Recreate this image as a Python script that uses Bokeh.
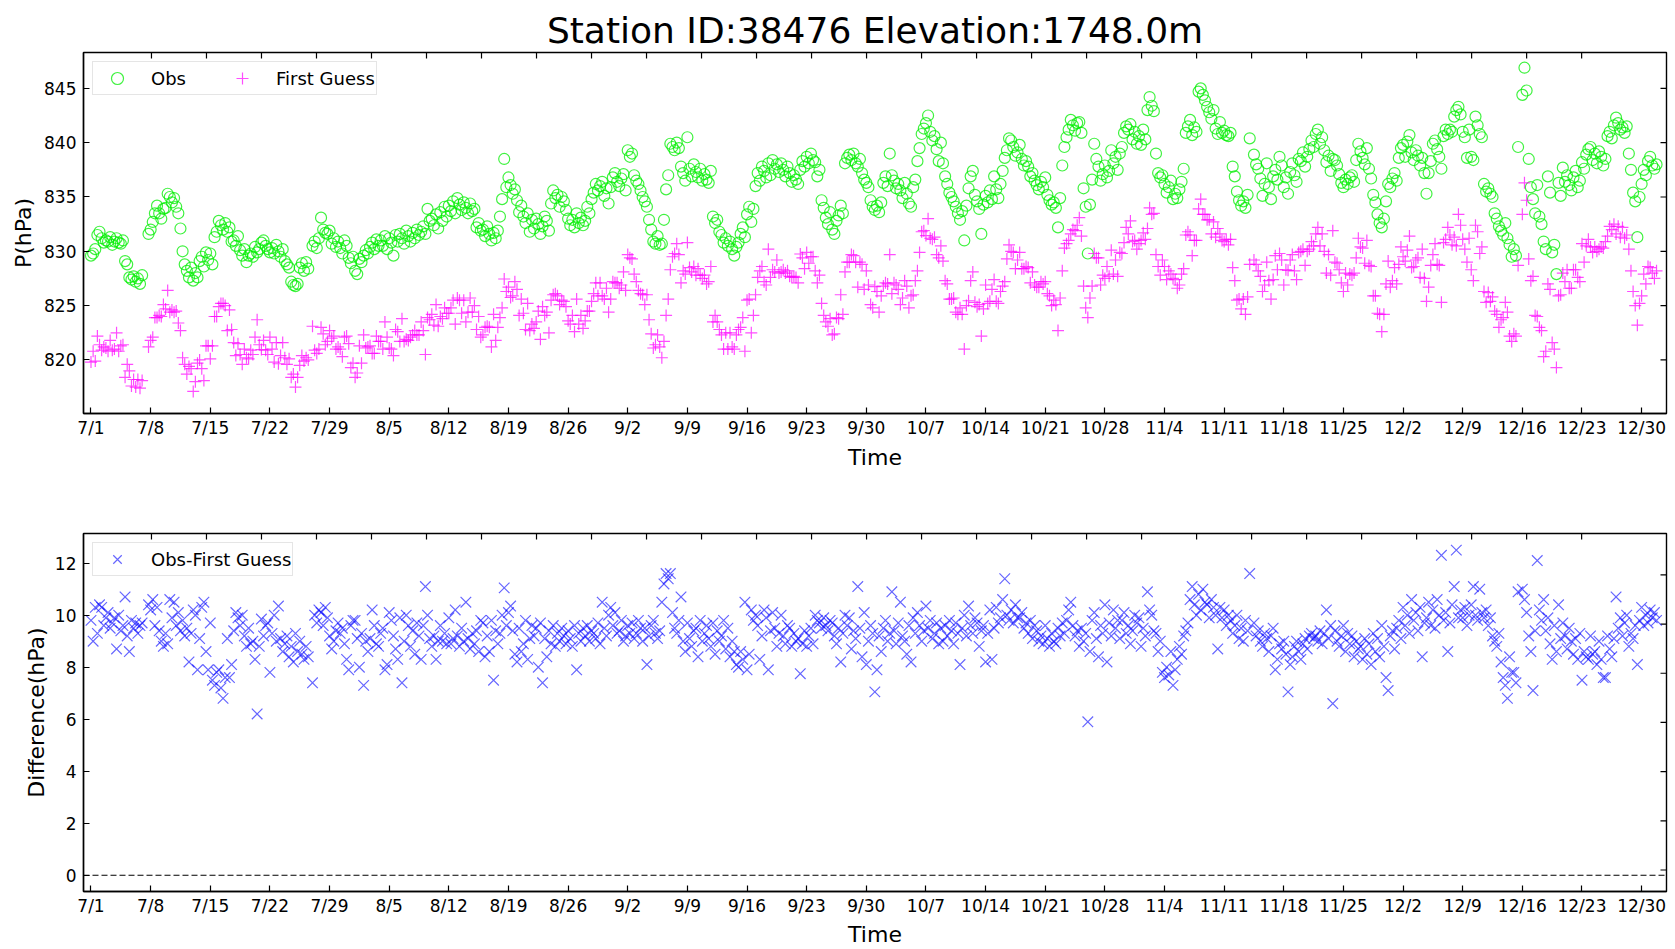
import numpy as np
from bokeh.plotting import figure
from bokeh.models import Range1d, FixedTicker, Legend, LegendItem, Span
from bokeh.layouts import column
from bokeh.embed import file_html
from bokeh.resources import INLINE

nan = float("nan")
FONT = "DejaVu Sans"
TITLE = "Station ID:38476 Elevation:1748.0m"

TICK_DAYS = [0, 7, 14, 21, 28, 35, 42, 49, 56, 63, 70, 77, 84, 91, 98, 105,
             112, 119, 126, 133, 140, 147, 154, 161, 168, 175, 182]
TICK_LABELS = ["7/1", "7/8", "7/15", "7/22", "7/29", "8/5", "8/12", "8/19", "8/26",
               "9/2", "9/9", "9/16", "9/23", "9/30", "10/7", "10/14", "10/21", "10/28",
               "11/4", "11/11", "11/18", "11/25", "12/2", "12/9", "12/16", "12/23", "12/30"]
P_TICKS = [820, 825, 830, 835, 840, 845]
D_TICKS = [0, 2, 4, 6, 8, 10, 12]

# observed station pressure (hPa), 4 reports per day (00/06/12/18), from 7/1
OBS = [
    829.6, 829.8, 830.2, 831.5, 831.8, 831.2, 830.8, 831.0, 830.9, 831.3, 830.6, 830.9, 831.2, 830.8, 830.7, 831.0,
    829.1, 828.8, 827.6, 827.4, 827.7, 827.2, 827.5, 827.0, 827.8, nan, nan, 831.6, 832.0, 832.7, 833.5, 834.2,
    833.5, 833.0, 833.9, 834.0, 835.3, 835.0, 834.5, 834.9, 834.1, 833.5, 832.1, 830.0, 828.8, 828.2, 827.6, 828.5,
    827.3, 828.0, 827.6, 829.1, 829.5, 828.6, 829.9, 829.2, 829.8, 828.8, 831.3, 831.8, 832.8, 832.4, 832.0, 832.6,
    831.8, 832.2, 830.9, 831.0, 830.5, 831.4, 830.1, 829.6, 830.2, 829.0, 829.6, 829.8, 829.5, 830.4, 829.9, 830.2,
    830.8, 831.0, 830.5, 830.2, 829.9, 830.3, 829.8, 830.6, 830.0, 829.5, 830.2, 829.1, 828.8, 828.5, 827.2, 826.9,
    826.8, 827.0, 828.5, 828.9, 828.2, 829.0, 828.4, nan, 830.5, 830.9, 830.3, 831.2, 833.1, 832.0, 831.7, 831.6,
    831.9, 830.7, 831.2, 830.4, 830.9, 830.3, 829.8, 831.0, 830.5, 829.4, 828.9, 829.5, 828.2, 827.9, 829.3, 829.0,
    829.6, 830.1, 829.8, 830.4, 830.8, 830.2, 831.1, 830.5, 831.0, 830.5, 831.4, 830.2, 831.2, 830.8, 829.6, 831.5,
    830.9, 831.6, 831.2, 830.7, 831.9, 831.4, 830.9, 831.7, 831.2, 832.0, 831.5, 831.8, 832.3, 831.6, 833.9, 832.8,
    833.0, 832.4, 833.4, 832.1, 833.6, 832.8, 834.1, 833.2, 834.2, 833.7, 834.6, 833.5, 834.9, 834.3, 833.8, 834.5,
    834.0, 833.5, 834.4, 833.7, 833.9, 832.2, 832.6, 831.9, 832.0, 831.4, 832.3, 831.6, 831.0, 831.7, 831.2, 831.9,
    833.2, 834.8, 838.5, 835.9, 836.8, 836.1, 835.3, 835.7, 834.7, 833.6, 834.2, 833.2, 832.6, 833.5, 831.8, 832.9,
    832.1, 833.0, 832.5, 831.6, 832.3, 833.2, 832.8, 831.9, 834.4, 835.6, 834.9, 835.2, 834.1, 835.0, 834.6, 833.8,
    833.0, 832.4, 832.9, 832.2, 833.5, 832.6, 833.1, 832.4, 832.8, 834.1, 833.5, 834.8, 835.4, 836.2, 835.6, 836.0,
    836.4, 835.1, 835.8, 834.4, 835.9, 836.8, 837.2, 836.4, 836.0, 836.7, 837.1, 835.6, 839.3, 838.7, 839.0, 837.0,
    836.5, 836.2, 835.6, 835.0, 834.6, 834.1, 832.9, 832.0, 830.9, 830.7, 831.4, 830.6, 830.7, 832.9, 835.7, 837.0,
    839.9, 839.6, 839.3, 840.0, 839.5, 837.8, 837.2, 836.5, 840.5, 837.6, 836.9, 838.0, 837.3, 836.8, 837.6, 836.5,
    837.1, 836.6, 836.3, 837.4, 833.2, 832.6, 832.9, 831.8, 831.5, 830.8, 831.2, 830.5, 830.9, 830.2, 829.6, 830.4,
    830.8, 831.6, 832.2, 831.3, 833.4, 834.1, 832.7, 833.9, 836.0, 837.2, 836.5, 837.8, 837.4, 836.8, 838.1, 837.0,
    838.4, 837.6, 838.0, 837.3, 838.1, 837.5, 836.9, 837.8, 837.2, 836.4, 837.0, 836.6, 836.2, 837.5, 838.3, 837.8,
    838.7, 838.1, 839.0, 838.4, 838.2, 836.9, 837.5, 834.7, 834.0, 833.1, 832.5, 833.6, 832.0, 831.6, 832.8, 833.3,
    834.2, 833.5, 838.1, 838.6, 838.9, 838.4, 839.0, 838.1, 837.8, 838.5, 837.2, 836.6, 836.3, 835.9, 834.7, 834.1,
    833.8, 834.2, 833.6, 834.5, 836.3, 836.9, 836.0, 839.0, 837.0, 836.5, 835.8, 836.2, 835.6, 834.9, 836.3, 835.3,
    834.4, 834.1, 835.9, 836.6, 838.3, 839.5, 840.8, 841.3, 841.8, 842.5, 841.0, 840.2, 840.6, 839.4, 838.3, 840.0,
    838.1, 836.9, 836.2, 835.4, 835.0, 834.6, 834.1, 833.5, 832.9, 833.7, 831.0, 834.2, 835.8, 836.9, 837.4, 835.2,
    834.6, 833.9, 831.6, 834.3, 835.1, 834.5, 835.6, 834.8, 836.9, 835.7, 834.9, 836.2, 837.4, 838.6, 839.3, 840.4,
    840.2, 839.6, 838.8, 839.1, 839.8, 838.5, 837.9, 838.3, 837.8, 836.9, 837.2, 836.5, 836.1, 835.7, 836.4, 835.9,
    836.8, 835.2, 834.7, 834.3, 834.5, 834.0, 832.2, 834.9, 837.9, 839.6, 840.5, 841.2, 842.1, 841.6, 841.1, 841.8,
    841.9, 840.9, 835.8, 834.1, 829.8, 834.3, 836.6, 839.9, 838.5, 837.8, 836.5, 837.1, 837.9, 836.8, 837.4, 839.3,
    838.1, 838.7, 837.5, 839.0, 839.6, 840.9, 841.5, 841.2, 841.7, 840.3, 841.0, 839.9, 840.6, 839.8, 841.2, 840.3,
    843.0, 844.2, 843.4, 842.9, 839.0, 837.2, 836.8, 837.0, 836.2, 835.4, 835.9, 836.5, 834.8, 835.3, 834.9, 835.7,
    836.4, 837.6, 840.9, 841.5, 842.1, 840.7, 841.4, 841.0, 844.7, 845.0, 844.4, 843.9, 843.3, 842.8, 842.2, 843.0,
    841.3, 840.8, 841.9, 840.9, 841.1, 840.7, 840.6, 840.9, 837.8, 836.9, 835.5, 834.7, 834.2, 834.6, 834.0, 835.2,
    840.4, nan, 838.9, 838.0, 837.6, 836.7, 835.1, 836.2, 838.1, 835.9, 834.8, 836.9, 837.5, 836.6, 838.7, 837.9,
    835.9, 836.8, 835.3, 837.3, 838.1, 837.0, 836.4, 838.5, 838.3, 839.1, 837.8, 838.7, 839.4, 840.2, 839.6, 840.8,
    841.2, 839.9, 840.5, 839.3, 838.2, 838.8, 837.4, 838.5, 838.4, 837.9, 837.1, 836.3, 835.9, 836.6, 836.2, 836.8,
    837.0, 836.4, 838.4, 839.9, 839.2, 838.6, 838.0, 839.5, 837.6, 836.7, 835.2, 834.5, 833.4, 832.6, 832.2, 833.0,
    834.6, 836.2, 835.9, 836.7, 837.2, 836.5, 838.6, 839.5, 839.8, 838.7, 840.1, 840.7, 839.1, 838.4, 839.3, 838.8,
    837.9, 838.6, 837.2, 835.3, 837.2, 838.3, 839.9, 840.2, 839.4, 838.7, 837.6, 840.6, 841.2, 840.8, 841.2, 841.0,
    842.4, 843.0, 843.3, 842.6, 841.0, 840.5, 838.6, 841.2, 838.7, 838.4, 842.4, 841.6, 840.8, 840.5, 836.2, 835.5,
    835.8, 835.3, 835.0, 833.5, 833.0, 832.3, 831.9, 831.5, 832.6, 831.2, 830.6, 829.5, 830.2, 829.6, 839.6, nan,
    844.4, 846.9, 844.8, 838.5, 835.9, 834.8, 833.5, 836.1, 833.2, 832.5, 830.9, 830.2, 836.9, 835.4, 829.9, 830.6,
    827.9, 836.3, 835.1, 837.7, 836.4, 837.0, 836.1, 835.6, 836.8, 837.4, 835.9, 836.5, 838.2, 837.6, 838.9, 839.4,
    839.6, 838.4, 839.0, 838.1, 839.2, 838.7, 837.9, 838.5, 840.6, 841.0, 840.4, 841.6, 842.3, 841.8, 841.2, 841.4,
    840.9, 841.5, 839.0, 837.5, 835.4, 834.6, 831.3, 835.0, 836.2, 837.5, 837.0, 838.3, 838.7, 837.9, 837.6, 838.0,
]

# Obs - First Guess (hPa), same reports
DIFF = [
    9.8, 9.0, 10.3, 9.3, 10.4, 10.3, 9.6, 9.9, 10.1, 9.5, 9.7, 9.9, 8.7, 10.0, 9.4, 9.6,
    10.7, 9.2, 8.6, 9.8, 9.5, 9.7, 9.3, 9.6, 9.7, nan, nan, 10.4, 10.2, 10.6, 9.6, 10.3,
    9.4, 9.0, 8.8, 9.3, 8.9, 10.6, 9.9, 10.5, 9.6, 10.1, 9.4, 9.8, 9.2, 9.5, 8.2, 9.3,
    10.2, 10.0, 7.9, 9.1, 10.3, 10.5, 8.6, 7.9, 9.7, 7.5, 7.3, 7.8, 7.9, 7.2, 6.8, 7.6,
    9.1, 7.6, 8.1, 9.4, 10.1, 9.9, 9.6, 10.0, 9.2, 8.8, 9.5, 8.9, 9.0, 8.3, 6.2, 8.8,
    9.85, 9.2, 9.6, 9.7, 7.8, 9.3, 10.0, 9.0, 10.35, 9.1, 8.6, 8.9, 9.2, 8.4, 8.8, 8.2,
    9.3, 8.6, 9.0, 8.5, 8.3, 8.8, 8.4, nan, 7.4, 10.0, 9.7, 10.2, 10.1, 9.6, 10.3, 9.9,
    9.2, 8.7, 9.0, 9.4, 9.7, 9.3, 9.5, 8.9, 8.3, 7.9, 9.6, 9.8, 9.8, 9.1, 8.0, 9.3,
    7.3, 9.0, 8.6, 9.1, 10.2, 9.6, 8.9, 8.8, 9.3, 9.5, 7.9, 8.1, 10.1, 9.8, 9.2, 8.7,
    8.3, 9.9, 7.4, 9.0, 10.0, 9.6, 8.8, 9.4, 8.5, 9.7, 9.2, 8.3, 9.6, 11.1, 10.0, 9.1,
    8.8, 9.2, 8.3, 9.0, 9.6, 9.0, 9.3, 8.9, 9.9, 8.9, 9.1, 10.2, 9.2, 8.8, 9.5, 9.0,
    10.5, 9.1, 8.7, 9.3, 8.9, 9.4, 8.6, 9.8, 9.7, 8.4, 9.2, 8.6, 9.8, 7.5, 9.4, 8.9,
    9.3, 10.0, 11.05, 9.6, 10.1, 10.35, 9.4, 8.5, 8.2, 9.5, 8.6, 8.9, 9.8, 8.3, 9.1, 9.6,
    9.2, 9.5, 8.0, 9.7, 7.4, 9.1, 8.4, 9.4, 8.9, 9.6, 8.8, 9.3, 9.0, 9.5, 9.2, 8.9,
    9.4, 9.1, 8.8, 9.6, 7.9, 9.3, 9.0, 9.5, 9.2, 9.6, 9.0, 9.4, 9.3, 9.1, 9.7, 8.9,
    10.5, 9.5, 9.2, 10.0, 10.3, 9.6, 10.1, 9.3, 9.4, 9.8, 9.0, 9.2, 9.6, 9.3, 9.7, 9.1,
    9.3, 9.8, 9.5, 9.0, 9.5, 8.1, 9.2, 9.6, 9.8, 9.3, 9.1, 9.4, 10.5, 11.2, 11.6, 11.4,
    11.6, 10.1, 9.5, 9.3, 9.8, 10.7, 9.0, 8.6, 9.7, 9.1, 8.8, 9.4, 9.5, 8.4, 9.8, 9.0,
    9.3, 9.6, 9.1, 8.8, 9.7, 8.5, 9.4, 9.0, 9.2, 9.8, 8.7, 9.5, 8.4, 9.0, 8.6, 8.1,
    8.0, 8.6, 8.3, 10.5, 7.9, 8.5, 10.2, 9.8, 10.0, 9.6, 8.3, 9.2, 10.2, 9.9, 7.9, 9.4,
    10.1, 9.5, 8.8, 9.3, 10.0, 9.2, 8.9, 9.6, 9.5, 8.8, 9.3, 9.0, 9.1, 7.75, 8.9, 9.4,
    8.8, 9.2, 9.5, 8.9, 10.0, 9.8, 9.7, 9.5, 9.9, 9.6, 9.4, 9.8, 9.7, 9.2, 8.9, 9.5,
    8.2, 9.3, 10.0, 9.6, 9.9, 8.7, 9.4, 9.1, 11.1, 9.5, 8.4, 10.1, 8.1, 9.0, 9.6, 9.3,
    7.05, 7.9, 9.2, 8.6, 9.5, 9.8, 9.0, 9.3, 10.9, 9.4, 8.9, 9.7, 10.5, 9.2, 9.0, 8.5,
    9.6, 8.2, 9.9, 9.3, 10.1, 9.6, 9.0, 9.4, 10.35, 9.5, 9.8, 9.1, 9.3, 9.7, 8.9, 9.5,
    9.0, 9.6, 9.2, 9.8, 9.4, 8.9, 9.7, 9.3, 8.1, 9.5, 10.0, 9.2, 10.35, 9.6, 9.3, 9.9,
    9.7, 8.8, 9.4, 9.6, 8.2, 9.3, 10.2, 8.3, 9.5, 10.3, 9.7, 9.9, 10.6, 11.4, 10.0, 9.8,
    10.2, 9.7, 10.4, 9.9, 9.9, 10.1, 9.5, 9.7, 9.3, 9.8, 9.1, 9.6, 9.4, 9.0, 9.2, 8.9,
    9.6, 9.1, 8.8, 9.3, 9.0, 8.9, 9.5, 9.2, 9.7, 9.3, 9.8, 10.2, 10.5, 9.6, 9.2, 9.4,
    8.8, 9.5, 9.0, 9.3, 5.9, 8.6, 9.8, 10.1, 9.1, 8.4, 9.6, 9.3, 10.4, 8.2, 9.7, 9.2,
    10.2, 9.5, 9.8, 9.1, 9.8, 10.1, 9.3, 9.6, 8.9, 9.4, 10.0, 9.7, 9.9, 8.8, 9.5, 9.2,
    10.9, 10.2, 10.0, 9.4, 9.3, 8.6, 9.0, 7.8, 7.6, 8.0, 7.7, 8.6, 7.3, 7.9, 8.3, 8.8,
    8.5, 9.2, 9.4, 9.7, 10.6, 11.1, 10.4, 10.0, 10.8, 10.2, 11.0, 10.5, 10.4, 9.9, 10.6, 10.3,
    10.0, 8.7, 10.3, 9.9, 10.2, 9.6, 10.0, 9.8, 9.3, 9.6, 10.0, 9.1, 9.5, 9.0, 9.8, 9.4,
    11.6, nan, 9.7, 9.2, 9.4, 9.0, 8.8, 9.3, 9.1, 8.6, 9.2, 9.5, 7.9, 8.3, 8.9, 8.7,
    9.0, 8.5, 7.05, 8.1, 8.4, 8.8, 9.0, 8.6, 8.3, 8.9, 9.1, 8.7, 9.2, 9.3, 9.1, 9.2,
    9.0, 9.4, 8.9, 9.3, 10.2, 9.1, 9.6, 6.6, 9.4, 9.0, 8.8, 9.2, 9.6, 8.6, 9.3, 8.9,
    9.2, 8.4, 9.0, 8.7, 8.8, 8.3, 9.1, 8.5, 8.9, 8.1, 9.3, 8.6, 9.1, 8.4, 9.6, 8.8,
    7.6, 7.1, 9.2, 9.4, 8.7, 9.5, 9.8, 9.1, 10.3, 9.6, 10.0, 9.3, 10.6, 9.8, 10.1, 9.4,
    10.3, 8.4, 9.7, 9.9, 10.5, 9.6, 10.2, 9.5, 10.6, 10.0, 12.3, 9.8, 10.1, 8.6, 9.7, 10.4,
    11.1, 12.5, 9.9, 10.2, 9.9, 10.3, 9.6, 10.0, 10.4, 11.1, 10.0, 9.8, 11.0, 10.1, 9.9, 10.2,
    9.6, 9.9, 9.2, 9.0, 8.8, 9.3, 8.2, 7.6, 7.3, 6.8, 8.4, 7.8, 7.8, 7.4, 10.9, nan,
    11.0, 10.6, 10.1, 9.2, 8.6, 7.1, 9.4, 12.1, 10.2, 9.8, 10.6, 9.4, 9.9, 8.9, 8.3, 9.6,
    8.6, 10.4, 9.1, 9.7, 9.2, 8.7, 9.5, 9.0, 8.5, 9.1, 8.3, 9.3, 7.5, 8.6, 8.4, 8.3,
    9.2, 8.5, 8.6, 8.1, 9.0, 8.3, 7.6, 7.6, 9.2, 8.7, 8.4, 9.1, 10.7, 9.5, 9.9, 9.2,
    9.7, 10.0, 8.8, 9.3, 9.1, 9.6, 8.1, 9.8, 10.3, 9.6, 10.0, 9.7, 10.2, 9.9, 10.1, 9.8,
]

obs = np.array(OBS, dtype=float)
diff = np.array(DIFF, dtype=float)
fg = obs - diff                       # First Guess = Obs - (Obs - First Guess)
t = np.arange(len(obs)) / 4.0         # 6-hourly report times, days since 7/1

LABEL_MAP = {d: s for d, s in zip(TICK_DAYS, TICK_LABELS)}

FIG_W = 1668
FRAME_W = 1583.0
TICK_LEN = 6.0


def style_axis(ax, ticks, overrides=None):
    ax.ticker = FixedTicker(ticks=ticks)
    ax.major_tick_in = 6
    ax.major_tick_out = 0
    ax.minor_tick_in = 0
    ax.minor_tick_out = 0
    ax.axis_line_color = "black"
    ax.axis_line_width = 1.4
    ax.major_tick_line_color = "black"
    ax.major_tick_line_width = 1.2
    ax.major_label_text_font = FONT
    ax.major_label_text_font_size = "17px"
    ax.major_label_text_color = "black"
    ax.axis_label_text_font = FONT
    ax.axis_label_text_font_size = "22px"
    ax.axis_label_text_font_style = "normal"
    ax.axis_label_text_color = "black"
    if overrides:
        ax.major_label_overrides = overrides


def base_fig(height, yr, top, bottom):
    p = figure(width=FIG_W, height=height, x_range=Range1d(-0.88, 184.92), y_range=yr,
               output_backend="svg", toolbar_location=None,
               min_border_left=83, min_border_right=2,
               min_border_top=top, min_border_bottom=bottom)
    p.xgrid.visible = False
    p.ygrid.visible = False
    p.outline_line_color = "black"
    p.outline_line_width = 1.4
    p.outline_line_alpha = 1.0
    p.background_fill_color = "white"
    p.border_fill_color = "white"
    return p


def mirror_ticks(p, frame_h, right_range_name, right_ticks):
    """Inward tick marks of the secondary (unlabelled) top and right axes."""
    yr = p.y_range
    dy = (yr.end - yr.start) * TICK_LEN / frame_h
    n = len(TICK_DAYS)
    p.segment(x0=TICK_DAYS, x1=TICK_DAYS, y0=[yr.end] * n, y1=[yr.end - dy] * n,
              x_range_name="top", line_color="black", line_width=1.2)
    xr = p.x_range
    dx = (xr.end - xr.start) * TICK_LEN / FRAME_W
    m = len(right_ticks)
    kw = {} if right_range_name is None else {"y_range_name": right_range_name}
    p.segment(x0=[xr.end] * m, x1=[xr.end - dx] * m, y0=right_ticks, y1=right_ticks,
              line_color="black", line_width=1.2, **kw)


def make_legend(items, orientation):
    return Legend(items=items, orientation=orientation, location="top_left",
                  margin=9, padding=1, spacing=33,
                  glyph_width=46, glyph_height=30, label_height=30,
                  label_standoff=11,
                  label_text_font=FONT, label_text_font_size="18px",
                  label_text_color="black",
                  border_line_color="#cccccc", border_line_width=1,
                  background_fill_color="white", background_fill_alpha=0.85)


# ---------------- top panel ----------------
p1 = base_fig(478, Range1d(815.07, 848.3), 52, 65)
p1.title.text = TITLE
p1.title.align = "center"
p1.title.text_font = FONT
p1.title.text_font_size = "36px"
p1.title.text_font_style = "normal"
p1.title.text_color = "black"
p1.title.standoff = 4

xa1 = p1.below[0]
style_axis(xa1, TICK_DAYS, overrides=LABEL_MAP)
xa1.axis_label = "Time"
xa1.major_label_standoff = 4
xa1.axis_label_standoff = 4
ya1 = p1.left[0]
style_axis(ya1, P_TICKS)
ya1.axis_label = "P(hPa)"
ya1.major_label_standoff = 7
ya1.axis_label_standoff = 5

p1.extra_x_ranges = {"top": Range1d(-8.65, 192.8)}
mirror_ticks(p1, 361.0, None, P_TICKS)

r_obs = p1.scatter(t, obs, marker="circle", size=11, fill_color=None,
                   line_color="#00ee00", line_alpha=0.75, line_width=1.2)
r_fg = p1.scatter(t, fg, marker="cross", size=12,
                  line_color="#ff00ff", line_alpha=0.7, line_width=1.2)
p1.add_layout(make_legend([LegendItem(label="Obs", renderers=[r_obs]),
                           LegendItem(label="First Guess", renderers=[r_fg])], "horizontal"))

# ---------------- bottom panel ----------------
p2 = base_fig(471, Range1d(-0.625, 13.14), 55, 54)
xa2 = p2.below[0]
style_axis(xa2, TICK_DAYS, overrides=LABEL_MAP)
xa2.axis_label = "Time"
xa2.major_label_standoff = 4
xa2.axis_label_standoff = 3
ya2 = p2.left[0]
style_axis(ya2, D_TICKS)
ya2.axis_label = "Difference(hPa)"
ya2.major_label_standoff = 7
ya2.axis_label_standoff = 3

p2.extra_x_ranges = {"top": Range1d(-8.65, 192.8)}
p2.extra_y_ranges = {"right": Range1d(-0.873, 13.68)}
mirror_ticks(p2, 362.0, "right", D_TICKS)

p2.add_layout(Span(location=0, dimension="width", line_color="black",
                   line_dash="6 3", line_width=1.2))
r_diff = p2.scatter(t, diff, marker="x", size=15,
                    line_color="#0000ff", line_alpha=0.6, line_width=1.2)
p2.add_layout(make_legend([LegendItem(label="Obs-First Guess", renderers=[r_diff])], "vertical"))

layout = column(p1, p2)
open("out.html", "w").write(file_html(layout, INLINE))
